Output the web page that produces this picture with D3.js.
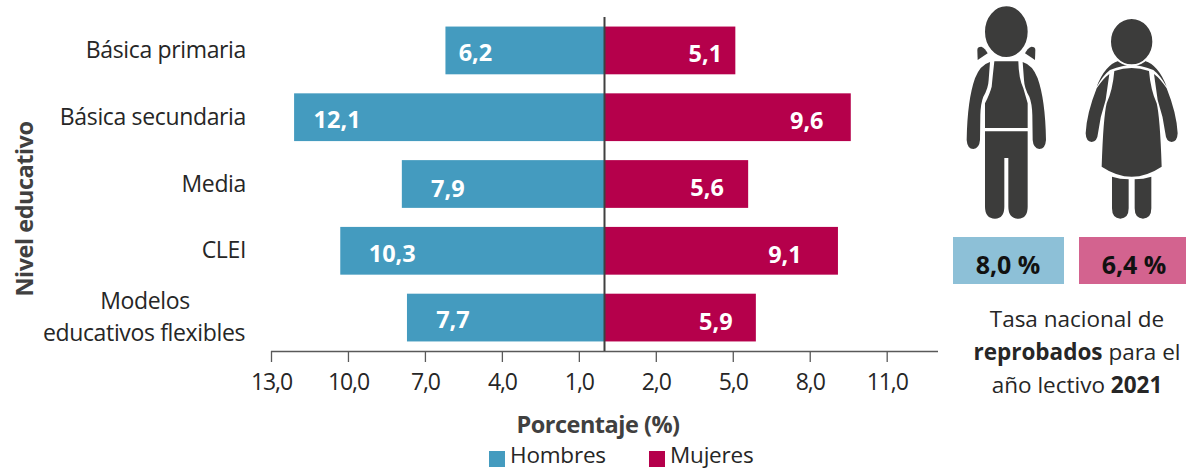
<!DOCTYPE html>
<html><head><meta charset="utf-8">
<script src="https://cdn.jsdelivr.net/npm/d3@7"></script>
<style>html,body{margin:0;padding:0;background:#fff;overflow:hidden}svg{display:block}text{font-family:"Open Sans",sans-serif}</style>
</head><body><svg id="c" width="1186" height="470"></svg>
<script>
const categories=["Básica primaria","Básica secundaria","Media","CLEI","Modelos educativos flexibles"];
const hombres=[6.2,12.1,7.9,10.3,7.7];
const mujeres=[5.1,9.6,5.6,9.1,5.9];
const tickValues=[-13,-10,-7,-4,-1,2,5,8,11];
const seriesNames=["Hombres","Mujeres"];
const tasaNacional=[8.0,6.4];
const fmt=v=>Math.abs(v).toFixed(1).replace(".",",");
const labelInsetH=[30,43,46,52,46], labelInsetM=[30,44,41,53,40];
const labelYH=[52,119,188,253,319], labelYM=[53,120,187,254,321];
const blue="#449BBF",red="#B5004B",dark="#3C3C3B",txt="#262626";

const svg=d3.select("#c");
const x=d3.scaleLinear().domain([-13,13]).range([271,938]);
const y=d3.scaleBand().domain(categories).range([17,351]).paddingInner(0.285).paddingOuter(0.143);

svg.selectAll("rect.h").data(hombres).join("rect").attr("class","h")
 .attr("x",d=>x(-d)).attr("width",d=>x(0)-x(-d))
 .attr("y",(d,i)=>y(categories[i])).attr("height",y.bandwidth()).attr("fill",blue);
svg.selectAll("rect.m").data(mujeres).join("rect").attr("class","m")
 .attr("x",x(0)).attr("width",d=>x(d)-x(0))
 .attr("y",(d,i)=>y(categories[i])).attr("height",y.bandwidth()).attr("fill",red);

const lab=sel=>sel.attr("text-anchor","middle").attr("dominant-baseline","central").attr("fill","#fff").attr("font-weight",700).attr("font-size",23.5);
lab(svg.selectAll("text.lh").data(hombres).join("text").attr("class","lh")
 .attr("x",(d,i)=>x(-d)+labelInsetH[i]).attr("y",(d,i)=>labelYH[i]).text(fmt));
lab(svg.selectAll("text.lm").data(mujeres).join("text").attr("class","lm")
 .attr("x",(d,i)=>x(d)-labelInsetM[i]).attr("y",(d,i)=>labelYM[i]).text(fmt));

// axis
const ax=svg.append("g").attr("transform","translate(0,351)")
 .call(d3.axisBottom(x).tickValues(tickValues).tickSize(11).tickPadding(12).tickFormat(fmt));
ax.select(".domain").attr("stroke","#595959").attr("stroke-width",1.5).attr("d",`M${x(-13)},0.5H${x(13)}`);
ax.selectAll(".tick line").attr("stroke","#595959").attr("stroke-width",1.3);
ax.selectAll(".tick text").attr("font-size",23).attr("fill",txt).attr("font-family",'"Open Sans",sans-serif').attr("letter-spacing",-1.1);
svg.append("line").attr("x1",x(0)).attr("x2",x(0)).attr("y1",17).attr("y2",351).attr("stroke","#404040").attr("stroke-width",2);

// category labels
categories.forEach((c,i)=>{
 const cy=y(c)+y.bandwidth()/2;
 if(i<4){svg.append("text").attr("x",246).attr("y",cy).attr("dy","0.33em").attr("text-anchor","end").attr("font-size",23).attr("fill",txt).attr("letter-spacing",-0.35).text(c);}
 else{
  svg.append("text").attr("x",145).attr("y",cy-16).attr("dy","0.33em").attr("text-anchor","middle").attr("font-size",23).attr("fill",txt).attr("letter-spacing",-0.35).text("Modelos");
  svg.append("text").attr("x",144).attr("y",cy+16).attr("dy","0.33em").attr("text-anchor","middle").attr("font-size",23).attr("fill",txt).attr("letter-spacing",-0.35).text("educativos flexibles");
 }
});
svg.append("text").attr("transform","translate(33,209) rotate(-90)").attr("text-anchor","middle").attr("font-size",23.5).attr("font-weight",700).attr("fill","#404040").attr("letter-spacing",-0.5).text("Nivel educativo");
svg.append("text").attr("x",598).attr("y",433).attr("text-anchor","middle").attr("font-size",23.5).attr("font-weight",700).attr("fill","#404040").attr("letter-spacing",-0.5).text("Porcentaje (%)");

// legend
[[489,blue],[649,red]].forEach(([lx,col],i)=>{
 svg.append("rect").attr("x",lx).attr("y",451).attr("width",16).attr("height",16).attr("fill",col);
 svg.append("text").attr("x",lx+21).attr("y",463).attr("font-size",22.5).attr("fill",txt).attr("letter-spacing",-0.2).text(seriesNames[i]);
});

// pictograms
const g=svg.append("g").attr("transform","translate(940,0) scale(0.33333)").attr("fill",dark);
const boyTip="M112,150Q112,140 124,140Q136,145 143,160L113,180Z";
const boyArm="M150,186Q120,195 105,235Q82,300 80,420Q82,447 100,447Q118,445 120,420L121,345Q122,310 130,290Q145,265 146,240Z";
[boyTip,boyArm].forEach(p=>{g.append("path").attr("d",p);g.append("path").attr("d",p).attr("transform","translate(398,0) scale(-1,1)");});
g.append("path").attr("d","M163,184H235Q236,235 250,265L263,310V384H135V310Q150,280 155,260Q158,230 163,184Z");
g.append("path").attr("d","M135,394H263V620Q263,655 235,656Q205,655 205,620V474H193V620Q193,655 165,656Q135,655 135,620Z");
g.append("ellipse").attr("cx",199).attr("cy",95).attr("rx",68).attr("ry",80).attr("stroke","#fff").attr("stroke-width",8);
g.append("path").attr("d","M535,183Q495,195 470,260Q490,225 510,210Q550,195 575,195Q600,195 640,210Q660,225 680,260Q655,195 615,183Q595,197 575,197Q555,197 535,183Z");
g.append("path").attr("d","M523,213Q575,195 627,213Q632,270 650,310Q660,350 665,500Q620,530 575,530Q530,530 485,500Q490,350 500,310Q518,270 523,213Z");
const girlArm="M470,265Q440,340 437,400Q438,425 455,426Q472,425 474,400Q480,350 497,300L508,222Q490,235 470,265Z";
g.append("path").attr("d",girlArm);g.append("path").attr("d",girlArm).attr("transform","translate(1150,0) scale(-1,1)");
const leg="M516,530Q540,538 566,538V625Q566,655 541,656Q516,655 516,625Z";
g.append("path").attr("d",leg);g.append("path").attr("d",leg).attr("transform","translate(1150,0) scale(-1,1)");
g.append("ellipse").attr("cx",575).attr("cy",125).attr("rx",65).attr("ry",71).attr("stroke","#fff").attr("stroke-width",6);

// rates
[[953,"#8DC0D7"],[1079,"#D3638F"]].forEach(([bx,col],i)=>{
 svg.append("rect").attr("x",bx).attr("y",237).attr("width",111).attr("height",47).attr("fill",col);
 svg.append("text").attr("x",bx+55).attr("y",274).attr("text-anchor","middle").attr("font-size",25).attr("font-weight",700).attr("fill","#111").text(fmt(tasaNacional[i])+" %");
});
const para=svg.append("g").attr("font-size",22.5).attr("fill",txt).attr("text-anchor","middle");
const t1=para.append("text").attr("x",1077).attr("y",327).text("Tasa nacional de");
const t2=para.append("text").attr("x",1077).attr("y",360);
t2.append("tspan").attr("font-weight",700).text("reprobados");t2.append("tspan").text(" para el");
const t3=para.append("text").attr("x",1077).attr("y",393);
t3.append("tspan").text("año lectivo ");t3.append("tspan").attr("font-weight",700).text("2021");
</script></body></html>
